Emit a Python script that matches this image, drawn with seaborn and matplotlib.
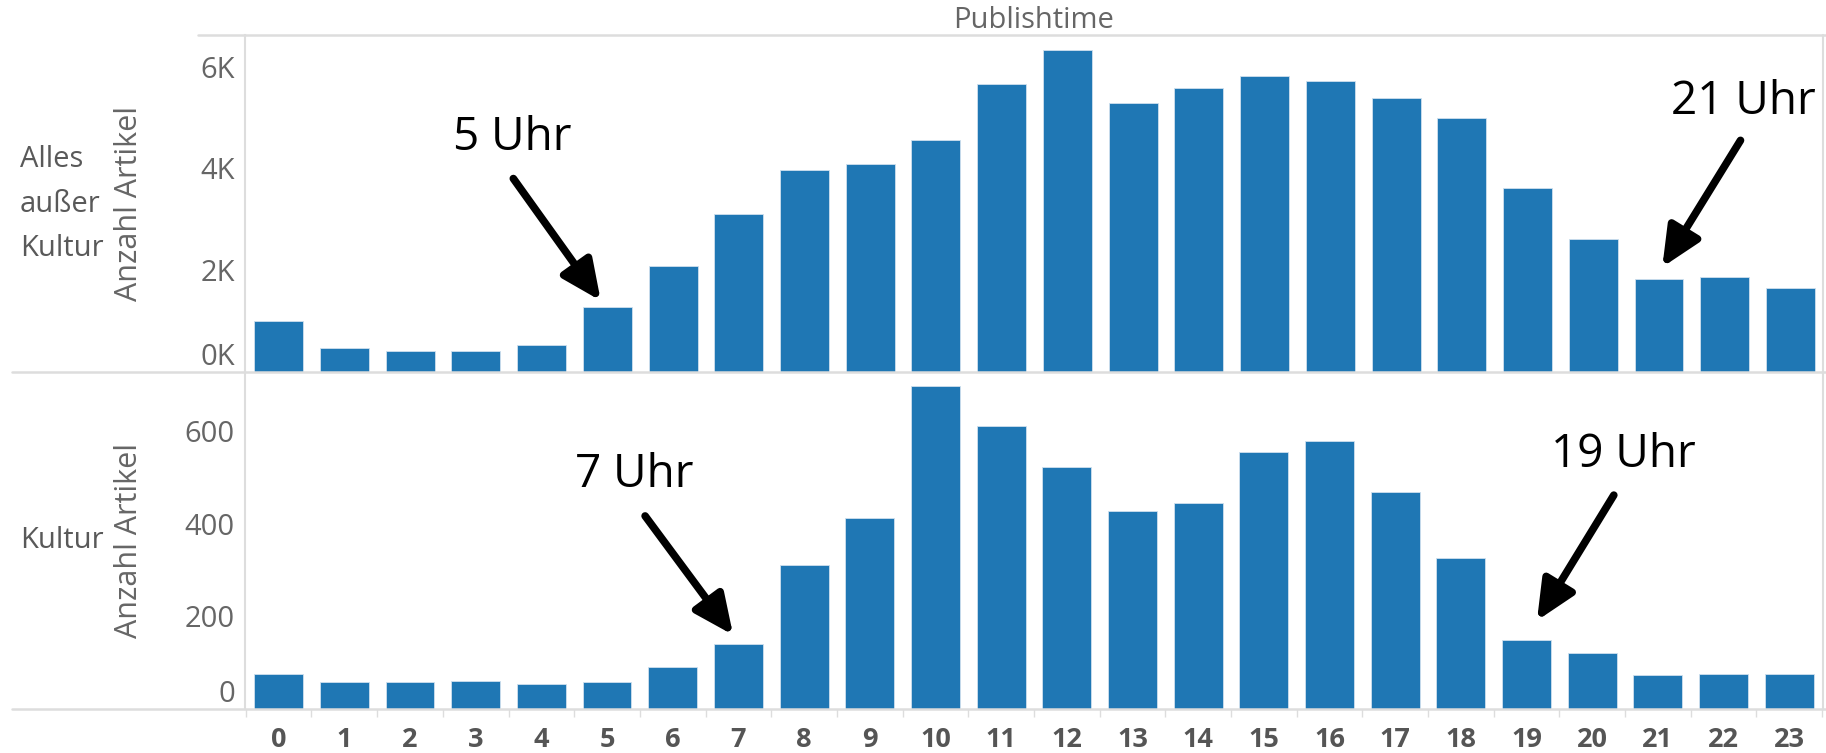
import matplotlib
matplotlib.use("Agg")
import matplotlib.pyplot as plt
from matplotlib.lines import Line2D
import seaborn as sns
import pandas as pd

sns.set_theme(style="white")
plt.rcParams['font.family'] = ['Open Sans', 'DejaVu Sans']

hours = list(range(24))
alles_ausser_kultur = [1010, 470, 420, 420, 540, 1270, 2090, 3100, 3970, 4080, 4560, 5660,
                       6320, 5290, 5570, 5810, 5720, 5380, 4990, 3610, 2610, 1835, 1860, 1650]
kultur = [75, 58, 58, 61, 55, 58, 90, 141, 310, 412, 697, 611,
          523, 428, 445, 555, 578, 469, 327, 148, 121, 73, 75, 75]

top_ticks = [0, 2000, 4000, 6000]
top_tick_labels = ["0K", "2K", "4K", "6K"]
bot_ticks = [0, 200, 400, 600]
bot_tick_labels = ["0", "200", "400", "600"]
row_labels = ["Alles\naußer\nKultur", "Kultur"]
annotations_top = [("5 Uhr", (3.55, 4600), (3.57, 3800), (4.90, 1400)),
                   ("21 Uhr", (22.29, 5300), (22.24, 4550), (21.05, 2060))]
annotations_bot = [("7 Uhr", (5.42, 505), (5.58, 417), (6.92, 160)),
                   ("19 Uhr", (20.47, 548), (20.33, 462), (19.16, 191))]

BAR = "#1f77b4"
GREY = "#666666"
LINE = "#dddddd"

W, H = 1826, 753
fig = plt.figure(figsize=(W / 100, H / 100), dpi=100)

left = 244.5 / W
right = 1822 / W
y_top, y_sep, y_bot = 35, 372, 709
ax1 = fig.add_axes([left, 1 - y_sep / H, right - left, (y_sep - y_top) / H])
ax2 = fig.add_axes([left, 1 - y_bot / H, right - left, (y_bot - y_sep) / H])

df1 = pd.DataFrame({"hour": hours, "n": alles_ausser_kultur})
df2 = pd.DataFrame({"hour": hours, "n": kultur})

for ax, df, ylim, ticks, labels in [(ax1, df1, (0, 6620), top_ticks, top_tick_labels),
                                     (ax2, df2, (0, 728), bot_ticks, bot_tick_labels)]:
    sns.barplot(data=df, x="hour", y="n", ax=ax, color=BAR, saturation=1, width=0.745,
                edgecolor="#cfe0ee", linewidth=0.6)
    ax.set_xlim(-0.52, 23.48)
    ax.set_ylim(*ylim)
    ax.set_yticks(ticks)
    ax.set_yticklabels(labels, fontsize=21, color=GREY)
    ax.set_ylabel("Anzahl Artikel", fontsize=22, color=GREY)
    ax.yaxis.set_label_coords(-(244.5 - 144) / (1822 - 244.5), 0.5)
    ax.set_xlabel("")
    for s in ["top", "bottom", "right"]:
        ax.spines[s].set_visible(False)
    ax.spines["left"].set_color(LINE)
    ax.spines["left"].set_linewidth(1.5)
    ax.tick_params(axis="y", length=5, width=1, color=LINE, pad=2)
    lab0 = ax.get_yticklabels()[0]
    lab0.set_va("bottom")
    lab0.set_y(0)
    ax.grid(False)
    ax.patch.set_alpha(0)

ax1.set_xticks([])
ax2.set_xticks(hours)
ax2.set_xticklabels([str(h) for h in hours], fontsize=19.5, fontweight="bold", color="#555555")
ax2.set_xticks([h - 0.5 for h in hours] + [23.5], minor=True)
ax2.tick_params(axis="x", which="major", length=0, pad=13)
ax2.tick_params(axis="x", which="minor", length=6, width=1, color=LINE, bottom=True)

# Panel frame lines
fig.add_artist(Line2D([198 / W, 1], [1 - y_top / H] * 2, color=LINE, lw=1.8))
fig.add_artist(Line2D([12 / W, 1], [1 - y_sep / H] * 2, color=LINE, lw=1.8))
fig.add_artist(Line2D([12 / W, 1], [1 - y_bot / H] * 2, color=LINE, lw=1.8))
fig.add_artist(Line2D([right + 1 / W] * 2, [1 - y_bot / H, 1 - y_top / H], color=LINE, lw=1.5))

fig.text((left + right) / 2, 1 - 21 / H, "Publishtime", ha="center", va="center",
         fontsize=21, color=GREY)
fig.text(20 / W, 1 - 204 / H, row_labels[0], ha="left", va="center", fontsize=21,
         color="#595959", linespacing=1.72)
fig.text(20 / W, 1 - 541 / H, row_labels[1], ha="left", va="center", fontsize=21,
         color="#595959")

for ax, anns in [(ax1, annotations_top), (ax2, annotations_bot)]:
    for txt, tpos, tail, head in anns:
        ax.text(tpos[0], tpos[1], txt, ha="center", va="center", fontsize=33, color="black",
                clip_on=False)
        ax.annotate("", xy=head, xytext=tail,
                    arrowprops=dict(arrowstyle="-|>,head_length=1.2,head_width=0.55",
                                    lw=5.5, color="black", shrinkA=0, shrinkB=0,
                                    mutation_scale=20, capstyle="round"),
                    annotation_clip=False)

fig.savefig("out.png", dpi=100)
